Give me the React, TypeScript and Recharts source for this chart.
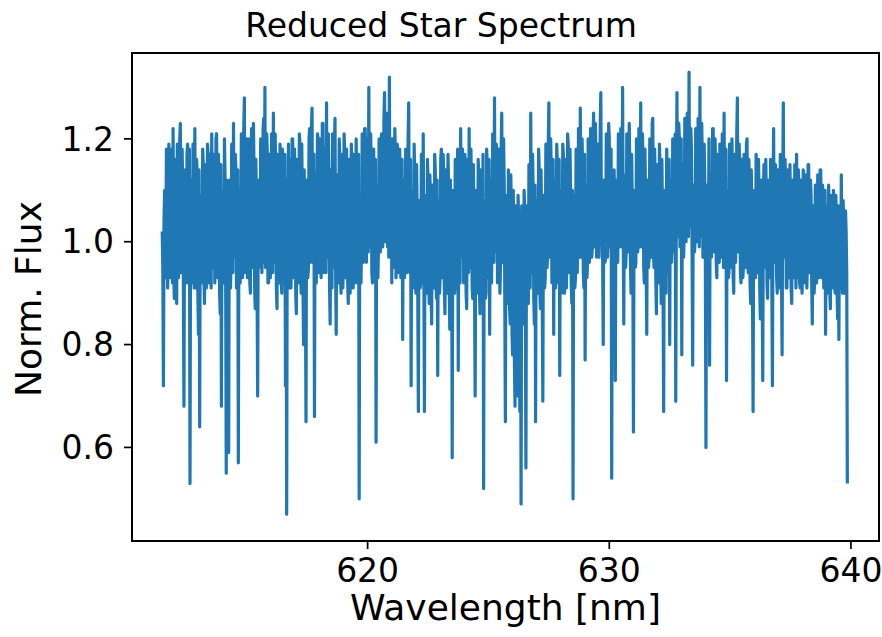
import React from 'react'
import {
  LineChart,
  Line,
  XAxis,
  YAxis,
  ReferenceArea,
  Customized,
} from 'recharts'

// sampling grid of the reduced spectrum (nm)
const WL_START = 611.5
const WL_STEP = 0.025

// normalised flux, one row per nm (40 samples each)
const flux611to616 = [
  1.02, 0.95, 0.72, 1.04, 1.10, 0.93, 0.98, 1.18, 1.16, 0.91, 0.97, 1.19, 1.15, 0.94, 0.93, 1.17, 1.18, 0.92, 1.22, 0.96,
  0.89, 1.16, 1.12, 0.90, 0.88, 1.19, 1.17, 0.93, 1.00, 1.20, 1.23, 0.94, 0.96, 1.18, 1.10, 0.92, 0.68, 1.08, 1.14, 0.92,

  0.95, 1.17, 1.19, 0.92, 1.02, 1.18, 0.53, 1.06, 1.12, 0.92, 0.94, 1.19, 1.16, 0.91, 1.22, 0.97, 0.91, 1.16, 1.13, 0.90,
  0.82, 1.14, 0.64, 1.09, 1.08, 0.92, 0.93, 1.18, 1.15, 0.93, 0.88, 1.15, 1.10, 0.91, 0.99, 1.19, 1.17, 0.92, 0.96, 1.17,

  1.05, 0.91, 1.21, 0.95, 0.97, 1.17, 1.14, 0.92, 1.00, 1.20, 1.21, 0.94, 0.93, 1.17, 1.12, 0.90, 0.86, 1.15, 0.68, 1.10,
  1.09, 0.92, 0.94, 1.20, 1.13, 0.95, 0.55, 1.12, 1.05, 0.93, 0.59, 1.11, 1.12, 0.91, 0.97, 1.19, 1.16, 0.94, 1.23, 0.97,

  0.98, 1.17, 1.14, 0.91, 0.92, 1.14, 0.57, 1.08, 1.10, 0.92, 1.00, 1.21, 1.18, 0.93, 1.03, 1.22, 1.28, 0.94, 0.99, 1.19,
  1.20, 0.93, 0.95, 1.20, 1.16, 0.92, 0.90, 1.18, 1.22, 0.95, 1.02, 1.23, 1.14, 0.91, 0.87, 1.16, 1.08, 0.91, 0.70, 1.10,

  1.12, 0.95, 0.96, 1.20, 1.18, 0.94, 1.01, 1.22, 1.24, 0.96, 1.30, 0.95, 0.98, 1.21, 1.17, 0.92, 0.92, 1.17, 1.13, 0.93,
  1.04, 1.21, 1.19, 0.94, 1.25, 0.96, 0.97, 1.21, 1.12, 0.91, 0.87, 1.17, 1.09, 0.92, 0.95, 1.19, 1.14, 0.92, 0.90, 1.18,
]
const flux616to621 = [
  1.06, 0.92, 0.94, 1.17, 0.72, 1.12, 0.47, 1.10, 1.02, 1.19, 0.91, 1.16, 1.10, 0.91, 0.96, 1.20, 1.20, 0.94, 0.93, 1.18,
  1.08, 0.90, 0.86, 1.16, 1.12, 0.92, 0.98, 1.21, 1.19, 0.95, 0.90, 1.19, 1.07, 0.91, 0.80, 1.14, 1.04, 0.92, 0.65, 1.12,

  1.10, 0.93, 0.95, 1.20, 1.22, 0.96, 1.00, 1.22, 1.26, 0.96, 0.97, 1.17, 0.66, 1.10, 1.13, 0.92, 1.02, 1.21, 1.20, 0.94,
  0.96, 1.20, 1.15, 0.93, 1.00, 1.23, 1.23, 0.95, 0.94, 1.18, 1.18, 0.94, 1.27, 0.97, 1.01, 1.21, 1.12, 0.91, 0.84, 1.14,

  1.08, 0.91, 1.21, 0.95, 0.98, 1.19, 1.24, 0.95, 0.82, 1.13, 1.12, 0.92, 0.95, 1.20, 1.16, 0.94, 0.90, 1.17, 1.10, 0.91,
  0.97, 1.21, 1.18, 0.93, 0.93, 1.18, 1.13, 0.92, 0.88, 1.16, 1.06, 0.90, 0.96, 1.19, 1.14, 0.93, 0.91, 1.17, 1.08, 0.92,

  0.98, 1.20, 1.12, 0.92, 0.95, 1.17, 0.50, 1.08, 1.06, 0.92, 0.99, 1.21, 1.17, 0.96, 1.02, 1.22, 1.22, 0.97, 0.96, 1.19,
  1.20, 0.98, 1.30, 0.99, 1.00, 1.21, 1.14, 0.94, 0.92, 1.18, 1.18, 0.96, 0.97, 1.16, 0.61, 1.11, 1.10, 0.93, 0.99, 1.20,

  1.16, 0.98, 1.02, 1.21, 1.20, 0.99, 1.05, 1.24, 1.29, 1.00, 1.08, 1.25, 1.22, 0.99, 1.12, 0.97, 1.32, 1.01, 1.06, 1.20,
  0.92, 1.17, 1.20, 0.95, 1.03, 1.22, 1.17, 0.93, 0.99, 1.19, 1.15, 0.94, 0.95, 1.18, 1.12, 0.93, 0.98, 1.16, 0.81, 1.12,
]
const flux621to626 = [
  1.10, 0.93, 0.96, 1.18, 1.15, 0.94, 1.00, 1.20, 1.27, 0.97, 0.94, 1.16, 0.72, 1.10, 1.08, 0.91, 0.95, 1.19, 1.12, 0.92,
  0.90, 1.15, 1.06, 0.90, 0.67, 1.08, 1.04, 0.91, 0.92, 1.17, 1.13, 0.92, 1.21, 0.96, 0.67, 1.09, 1.05, 0.90, 0.93, 1.16,

  1.12, 0.92, 0.88, 1.13, 1.08, 0.90, 0.84, 1.11, 1.10, 0.91, 0.95, 1.17, 1.14, 0.93, 0.89, 1.12, 0.74, 1.08, 1.06, 0.90,
  0.93, 1.16, 1.18, 0.93, 0.97, 1.17, 1.13, 0.91, 0.86, 1.14, 1.09, 0.90, 0.94, 1.17, 1.11, 0.92, 0.83, 1.12, 1.04, 1.10,

  0.58, 1.10, 1.03, 0.90, 0.90, 1.16, 1.12, 0.91, 0.96, 1.18, 0.75, 1.11, 1.10, 0.92, 1.22, 0.97, 0.98, 1.18, 1.14, 0.92,
  0.92, 1.17, 1.08, 0.90, 0.87, 1.16, 1.16, 0.94, 1.22, 0.97, 0.95, 1.18, 1.10, 0.91, 0.89, 1.15, 1.05, 0.90, 0.70, 1.10,

  1.07, 0.90, 0.91, 1.16, 1.13, 0.91, 0.86, 1.14, 1.09, 0.90, 0.94, 1.17, 0.52, 1.08, 1.04, 0.89, 0.90, 1.18, 1.15, 0.93,
  0.97, 1.16, 0.82, 1.12, 1.12, 0.92, 1.00, 1.21, 1.19, 0.96, 1.28, 0.98, 0.98, 1.19, 1.14, 0.92, 0.93, 1.18, 1.10, 0.90,

  0.96, 1.18, 1.25, 0.96, 1.02, 1.20, 1.12, 0.90, 0.65, 1.09, 1.06, 0.88, 0.90, 1.14, 1.10, 0.87, 0.84, 1.13, 1.05, 0.82,
  0.78, 1.10, 1.02, 0.76, 0.68, 1.07, 0.99, 0.72, 0.70, 1.09, 1.04, 0.78, 0.67, 1.05, 0.49, 1.07, 1.00, 0.84, 0.85, 1.10,
]
const flux626to631 = [
  1.06, 0.92, 0.56, 1.07, 1.03, 0.88, 0.88, 1.15, 1.12, 0.91, 1.25, 0.97, 0.94, 1.17, 1.10, 0.89, 0.84, 1.11, 0.65, 1.08,
  1.08, 0.90, 0.92, 1.18, 1.14, 0.91, 0.87, 1.14, 1.05, 0.89, 0.69, 1.09, 1.09, 0.91, 0.93, 1.19, 1.16, 0.95, 0.98, 1.19,

  1.27, 0.97, 1.00, 1.20, 1.13, 0.92, 0.95, 1.16, 0.82, 1.12, 1.10, 0.91, 0.97, 1.19, 1.15, 0.93, 0.92, 1.16, 0.74, 1.10,
  1.08, 0.90, 0.96, 1.19, 1.17, 0.94, 0.90, 1.16, 1.12, 0.91, 0.99, 1.21, 1.19, 0.95, 0.94, 1.18, 1.10, 0.92, 0.88, 1.10,

  0.50, 1.09, 1.05, 0.91, 0.93, 1.18, 1.15, 0.94, 1.00, 1.22, 1.18, 0.97, 1.26, 0.99, 0.97, 1.20, 1.12, 0.94, 0.91, 1.17,
  0.77, 1.11, 1.09, 0.93, 0.96, 1.20, 1.17, 0.96, 1.02, 1.22, 1.20, 0.97, 0.99, 1.20, 1.25, 0.99, 1.04, 1.23, 1.15, 0.97,

  0.98, 1.19, 1.18, 0.97, 1.03, 1.23, 1.29, 1.01, 1.07, 0.96, 0.80, 1.12, 1.12, 0.96, 0.97, 1.21, 1.16, 0.97, 1.01, 1.23,
  1.20, 0.99, 0.99, 1.18, 0.54, 1.10, 1.08, 0.95, 1.14, 0.97, 0.73, 1.12, 1.11, 0.96, 0.96, 1.21, 1.19, 0.99, 1.02, 1.22,

  1.17, 0.99, 1.30, 1.02, 0.84, 1.13, 1.10, 0.95, 0.98, 1.21, 1.16, 0.98, 1.02, 1.23, 1.14, 0.96, 0.90, 1.17, 1.08, 0.94,
  0.63, 1.10, 1.05, 0.95, 0.96, 1.20, 1.17, 0.98, 1.00, 1.22, 1.21, 0.99, 1.27, 1.01, 0.99, 1.21, 1.13, 0.95, 0.92, 1.18,
]
const flux631to636 = [
  1.09, 0.96, 0.82, 1.12, 1.12, 0.95, 0.97, 1.20, 1.15, 0.97, 1.01, 1.23, 1.24, 0.98, 0.95, 1.18, 1.12, 0.93, 0.86, 1.15,
  1.08, 0.92, 0.93, 1.19, 1.14, 0.95, 0.88, 1.16, 1.06, 0.91, 0.67, 1.09, 1.10, 0.93, 0.90, 1.18, 1.13, 0.94, 0.95, 1.16,

  0.80, 1.12, 1.11, 0.96, 0.99, 1.20, 1.17, 0.98, 1.03, 1.21, 0.69, 1.10, 1.29, 1.01, 1.04, 1.23, 1.20, 0.99, 1.00, 1.20,
  0.78, 1.12, 1.15, 0.97, 1.02, 1.24, 1.22, 1.00, 1.06, 1.25, 1.25, 1.01, 1.33, 1.03, 1.05, 1.22, 1.18, 0.98, 0.76, 1.11,

  1.10, 0.98, 1.00, 1.22, 1.21, 1.00, 1.04, 1.24, 1.17, 0.99, 1.30, 1.01, 1.02, 1.23, 1.16, 0.97, 0.97, 1.19, 1.12, 0.96,
  0.60, 1.11, 1.08, 0.95, 0.99, 1.20, 0.76, 1.12, 1.13, 0.97, 1.01, 1.22, 1.22, 0.99, 0.98, 1.20, 1.15, 0.96, 0.93, 1.17,

  1.12, 0.96, 0.96, 1.19, 1.18, 0.97, 1.00, 1.21, 1.14, 0.95, 1.25, 0.98, 0.95, 1.18, 0.73, 1.10, 1.09, 0.93, 0.94, 1.19,
  1.16, 0.95, 0.98, 1.20, 1.12, 0.93, 0.90, 1.16, 1.17, 0.96, 1.03, 1.21, 1.28, 0.98, 0.99, 1.19, 1.13, 0.94, 0.92, 1.16,

  1.08, 0.93, 0.95, 1.17, 1.15, 0.95, 0.99, 1.19, 1.20, 0.96, 0.94, 1.16, 1.12, 0.92, 0.88, 1.14, 1.06, 0.91, 0.67, 1.08,
  1.10, 0.93, 0.93, 1.17, 1.13, 0.94, 0.97, 1.16, 1.08, 0.91, 0.85, 1.12, 1.11, 0.92, 0.73, 1.09, 1.15, 0.95, 0.96, 1.16,
]
const flux636to640 = [
  1.07, 0.92, 0.89, 1.12, 1.10, 0.93, 0.95, 1.16, 1.05, 0.92, 0.72, 1.08, 1.22, 0.96, 0.96, 1.15, 1.12, 0.93, 0.90, 1.14,
  1.09, 0.91, 0.93, 1.17, 1.14, 0.94, 0.78, 1.10, 1.27, 0.97, 0.97, 1.16, 1.08, 0.91, 0.91, 1.14, 1.12, 0.93, 0.95, 1.15,

  1.05, 0.91, 0.88, 1.11, 1.12, 0.93, 0.96, 1.15, 1.08, 0.91, 1.17, 0.96, 0.93, 1.14, 1.10, 0.92, 0.91, 1.12, 1.06, 0.90,
  0.95, 1.14, 1.12, 0.93, 0.92, 1.13, 1.07, 0.91, 0.97, 1.15, 1.15, 0.95, 0.94, 1.12, 1.09, 0.92, 0.84, 1.07, 1.05, 0.90,

  0.93, 1.11, 1.10, 0.92, 0.95, 1.13, 1.12, 0.93, 0.98, 1.14, 1.14, 0.94, 0.93, 1.11, 1.08, 0.91, 0.96, 1.10, 0.82, 1.07,
  1.06, 0.90, 0.92, 1.11, 1.04, 0.90, 0.87, 1.09, 1.03, 0.91, 0.93, 1.10, 1.08, 0.91, 0.90, 1.09, 1.02, 0.90, 0.85, 1.07,

  0.81, 1.05, 1.06, 0.91, 1.13, 0.96, 0.90, 1.08, 1.04, 0.90, 0.93, 1.06, 1.02, 0.94, 0.53,
]

const flux = [
  ...flux611to616,
  ...flux616to621,
  ...flux621to626,
  ...flux626to631,
  ...flux631to636,
  ...flux636to640,
]

const xTicks = [620, 630, 640]
const yTicks = [0.6, 0.8, 1.0, 1.2]
const xDomain: [number, number] = [610.25, 641.16]
const yDomain: [number, number] = [0.418, 1.367]

const data = flux.map((f, i) => ({
  wl: Number((WL_START + i * WL_STEP).toFixed(3)),
  flux: f,
}))

const FONT = "'DejaVu Sans', sans-serif"
const tickStyle = { fontSize: 33, fill: '#000', fontFamily: FONT }

function Title() {
  return (
    <text x={441} y={37} textAnchor="middle" fontSize={33} fontFamily={FONT} fill="#000">
      Reduced Star Spectrum
    </text>
  )
}

function YLabel() {
  return (
    <text
      x={41}
      y={299}
      transform="rotate(-90 41 299)"
      textAnchor="middle"
      fontSize={36}
      fontFamily={FONT}
      fill="#000"
    >
      Norm. Flux
    </text>
  )
}

function XLabel() {
  return (
    <text x={505.5} y={620} textAnchor="middle" fontSize={36} fontFamily={FONT} fill="#000">
      Wavelength [nm]
    </text>
  )
}

export default function App() {
  return (
    <div style={{ position: 'absolute', left: 0, top: 0, background: '#fff' }}>
      <LineChart
        width={882}
        height={637}
        data={data}
        margin={{ top: 53, right: 3, left: 0, bottom: 0 }}
      >
        <XAxis
          dataKey="wl"
          type="number"
          domain={xDomain}
          ticks={xTicks}
          allowDataOverflow
          height={96}
          axisLine={false}
          tickLine={{ stroke: '#000', strokeWidth: 1.7 }}
          tickSize={8}
          tickMargin={10}
          tick={tickStyle}
        />
        <YAxis
          type="number"
          domain={yDomain}
          ticks={yTicks}
          allowDataOverflow
          width={132}
          axisLine={false}
          tickLine={{ stroke: '#000', strokeWidth: 1.7 }}
          tickSize={8}
          tickMargin={10}
          tick={tickStyle}
          tickFormatter={(v: number) => v.toFixed(1)}
        />
        <Line
          type="linear"
          dataKey="flux"
          stroke="#1f77b4"
          strokeWidth={3.2}
          strokeLinejoin="round"
          dot={false}
          activeDot={false}
          isAnimationActive={false}
        />
        <ReferenceArea
          x1={xDomain[0]}
          x2={xDomain[1]}
          y1={yDomain[0]}
          y2={yDomain[1]}
          fill="none"
          stroke="#000"
          strokeWidth={2}
          ifOverflow="visible"
        />
        <Customized component={Title} />
        <Customized component={YLabel} />
        <Customized component={XLabel} />
      </LineChart>
    </div>
  )
}
